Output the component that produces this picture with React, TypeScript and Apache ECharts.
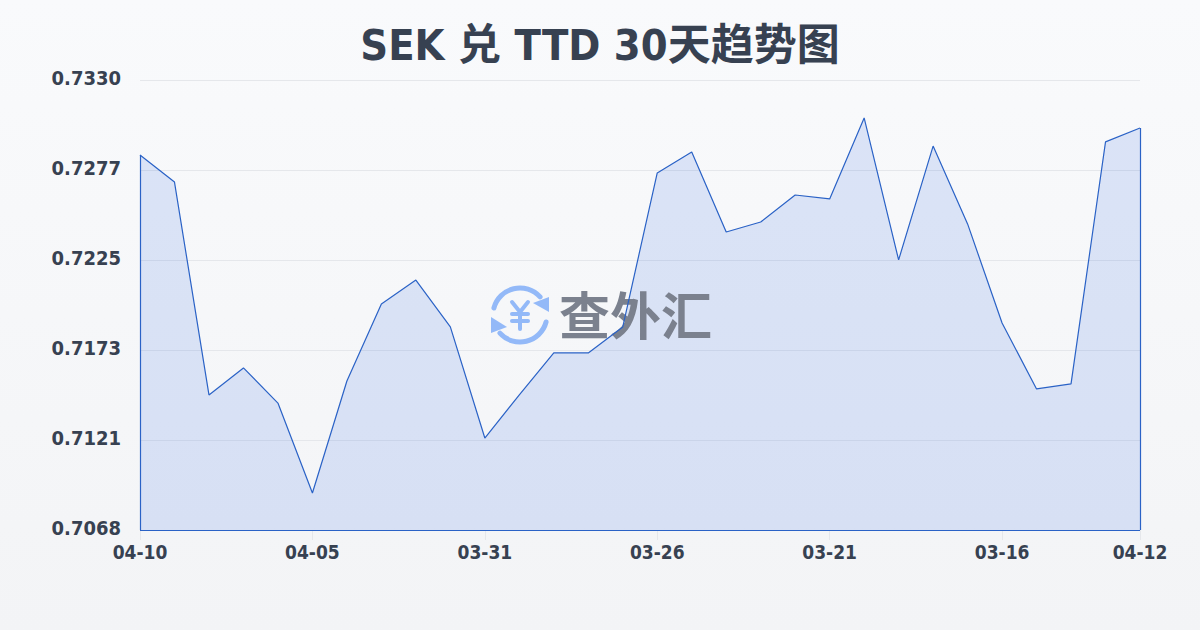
import React, { useEffect, useRef } from "react";
import * as echarts from "echarts";

const titleText = "SEK 兑 TTD 30天趋势图";
const watermarkText = "查外汇";
const dates = ["04-10","04-09","04-08","04-07","04-06","04-05","04-04","04-03","04-02","04-01","03-31","03-30","03-29","03-28","03-27","03-26","03-25","03-24","03-23","03-22","03-21","03-20","03-19","03-18","03-17","03-16","03-15","03-14","03-13","04-12"];
const rates = [0.72861,0.72704,0.71468,0.71625,0.71421,0.70899,0.71549,0.71996,0.72135,0.71863,0.71218,0.71468,0.71712,0.71712,0.71863,0.72757,0.72879,0.72414,0.72472,0.72629,0.72606,0.73076,0.72252,0.72913,0.72461,0.71886,0.71503,0.71532,0.72937,0.73018];
const yTicks = [0.70684,0.712065,0.71729,0.722515,0.72774,0.732965];
const xLabelIndexes = [0,5,10,15,20,25,29];

const BLUE = "#2a62c6";
const FONT = "'DejaVu Sans Condensed', 'Noto Sans CJK SC', sans-serif";

export default function App() {
  const ref = useRef<HTMLDivElement>(null);
  useEffect(() => {
    document.body.style.margin = "0";
    const chart = echarts.init(ref.current!, null, { renderer: "svg" });
    const first = dates[0];
    const last = dates[dates.length - 1];
    const base = yTicks[0];
    const seg = (a: any, b: any) => [a, b];
    const logo = { stroke: "#93b9f8", lineWidth: 5, lineCap: "round", fill: "none" };
    const z = 2;
    chart.setOption({
      animation: false,
      backgroundColor: "transparent",
      title: {
        text: titleText,
        left: "center",
        top: 18,
        textStyle: { fontFamily: FONT, fontSize: 43, fontWeight: "bold", color: "#374151" },
      },
      grid: { left: 140, right: 60, top: 80, bottom: 100 },
      xAxis: {
        type: "category",
        boundaryGap: false,
        data: dates,
        axisLine: { show: false },
        axisTick: { show: true, length: 10, alignWithLabel: true, interval: (i: number) => xLabelIndexes.includes(i), lineStyle: { color: "#e5e7eb" } },
        axisLabel: {
          interval: (i: number) => xLabelIndexes.includes(i),
          margin: 12,
          fontFamily: FONT, fontSize: 19, fontWeight: "bold", color: "#374151",
        },
        splitLine: { show: false },
      },
      yAxis: {
        type: "value",
        min: yTicks[0],
        max: yTicks[yTicks.length - 1],
        axisLine: { show: false },
        axisTick: { show: false, customValues: yTicks },
        axisLabel: {
          customValues: yTicks,
          formatter: (v: number) => v.toFixed(4),
          margin: 19,
          verticalAlign: "bottom",
          lineHeight: 4,
          fontFamily: FONT, fontSize: 20, fontWeight: "bold", color: "#374151",
        },
        splitLine: { show: true, lineStyle: { color: "#e5e7eb", width: 1 } },
      },
      graphic: [
        { type: "arc", z, silent: true, shape: { cx: 520, cy: 315, r: 27, startAngle: (195 * Math.PI) / 180, endAngle: (318 * Math.PI) / 180, clockwise: true }, style: logo },
        { type: "arc", z, silent: true, shape: { cx: 520, cy: 315, r: 27, startAngle: (15 * Math.PI) / 180, endAngle: (138 * Math.PI) / 180, clockwise: true }, style: logo },
        { type: "polygon", z, silent: true, shape: { points: [[549, 297], [549, 312], [533, 303]] }, style: { fill: "#93b9f8" } },
        { type: "polygon", z, silent: true, shape: { points: [[491, 317], [491, 333], [507, 327]] }, style: { fill: "#93b9f8" } },
        { type: "polyline", z, silent: true, shape: { points: [[512, 302], [520, 312], [528, 302]] }, style: { ...logo, lineWidth: 4 } },
        { type: "line", z, silent: true, shape: { x1: 512, y1: 314, x2: 528, y2: 314 }, style: { ...logo, lineWidth: 4 } },
        { type: "line", z, silent: true, shape: { x1: 512, y1: 321, x2: 528, y2: 321 }, style: { ...logo, lineWidth: 4 } },
        { type: "line", z, silent: true, shape: { x1: 520, y1: 312, x2: 520, y2: 329 }, style: { ...logo, lineWidth: 4 } },
        { type: "text", z, silent: true, x: 559, y: 313, style: { text: watermarkText, fontFamily: "'Noto Sans CJK SC', sans-serif", fontSize: 51, fontWeight: "bold", fill: "#7b818e", verticalAlign: "middle", align: "left" } },
      ],
      series: [
        {
          type: "line",
          data: rates,
          z: 1,
          symbol: "none",
          lineStyle: { width: 0, opacity: 0 },
          areaStyle: { color: "rgba(40,100,230,0.2)", origin: "start" },
        },
        {
          type: "line",
          data: rates,
          z: 3,
          symbol: "none",
          lineStyle: { color: BLUE, width: 1.2 },
          markLine: {
            silent: true,
            symbol: "none",
            z: 3,
            label: { show: false },
            emphasis: { disabled: true },
            lineStyle: { color: BLUE, width: 1.2, type: "solid" },
            data: [
              seg({ xAxis: first, yAxis: base }, { xAxis: first, yAxis: rates[0] }),
              seg({ xAxis: last, yAxis: base }, { xAxis: last, yAxis: rates[rates.length - 1] }),
              seg({ xAxis: first, yAxis: base }, { xAxis: last, yAxis: base }),
            ],
          },
        },
      ],
    });
    return () => chart.dispose();
  }, []);
  return (
    <div style={{ width: 1200, height: 630, background: "linear-gradient(180deg,#f9fafc 0%,#f3f4f6 100%)" }}>
      <div ref={ref} style={{ width: 1200, height: 630 }} />
    </div>
  );
}
